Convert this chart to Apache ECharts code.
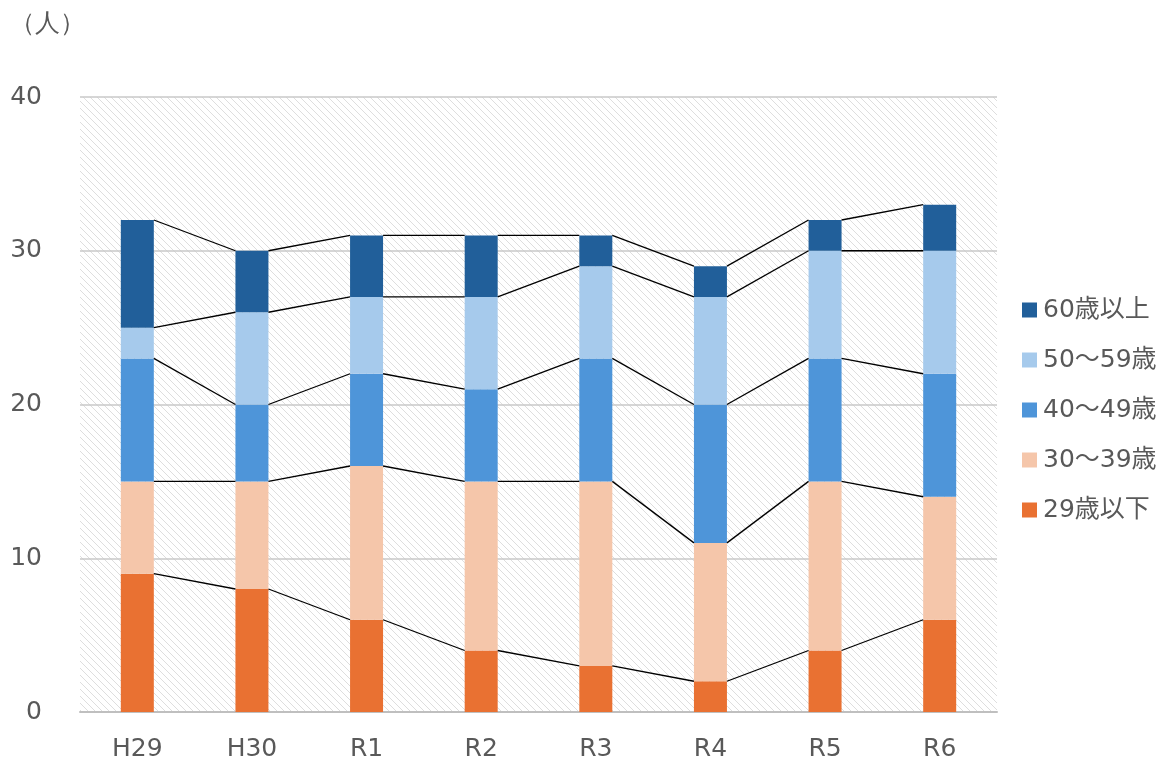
<!DOCTYPE html>
<html>
<head>
<meta charset="utf-8">
<script src="https://cdn.jsdelivr.net/npm/echarts@6/dist/echarts.min.js"></script>
<style>
  html, body { margin: 0; padding: 0; background: #fff; }
  #chart { width: 1166px; height: 765px; }
</style>
</head>
<body>
<div id="chart"></div>
<script>
// Fiscal years
const years = ['H29', 'H30', 'R1', 'R2', 'R3', 'R4', 'R5', 'R6'];

// Headcount by age group (persons)
const age29Under = [9, 8, 6, 4, 3, 2, 4, 6];
const age30s     = [6, 7, 10, 11, 12, 9, 11, 8];
const age40s     = [8, 5, 6, 6, 8, 9, 8, 8];
const age50s     = [2, 6, 5, 6, 6, 7, 7, 8];
const age60Over  = [7, 4, 4, 4, 2, 2, 2, 3];

const groupNames  = ['29歳以下', '30～39歳', '40～49歳', '50～59歳', '60歳以上'];
const groupValues = [age29Under, age30s, age40s, age50s, age60Over];
const groupColors = ['#E97132', '#F5C6AA', '#4E95D9', '#A6CAEC', '#215F9A'];

const yTicks = { min: 0, max: 40, interval: 10 };

const FONT = 'DejaVu Sans, Noto Sans CJK JP, sans-serif';
const TEXT = '#595959';
const BAR_W = 33;

// Diagonal hatch used as plot-area background
function hatch() {
  const s = 7;
  const c = document.createElement('canvas');
  c.width = s; c.height = s;
  const g = c.getContext('2d');
  g.fillStyle = '#ffffff';
  g.fillRect(0, 0, s, s);
  g.strokeStyle = '#dedede';
  g.lineWidth = 1;
  g.beginPath();
  g.moveTo(-1, -1); g.lineTo(s + 1, s + 1);
  g.moveTo(-1, s - 1); g.lineTo(1, s + 1);
  g.moveTo(s - 1, -1); g.lineTo(s + 1, 1);
  g.stroke();
  return c;
}

// Cumulative tops of each stack segment per year
function cumulative(i) {
  let acc = 0;
  return groupValues.map(v => (acc += v[i]));
}

// Connector rows: [index, tops of year i..., tops of year i+1...]
const connectorData = [];
for (let i = 0; i < years.length - 1; i++) {
  connectorData.push([i].concat(cumulative(i), cumulative(i + 1)));
}

const barSeries = groupNames.map((name, k) => ({
  name: name,
  type: 'bar',
  stack: 'total',
  barWidth: BAR_W,
  data: groupValues[k],
  itemStyle: { color: groupColors[k] },
  emphasis: { disabled: true }
}));

const connectorSeries = {
  type: 'custom',
  name: 'connector',
  silent: true,
  z: 5,
  data: connectorData,
  encode: { x: 0, y: 1 },
  renderItem: function (params, api) {
    const i = api.value(0);
    const n = groupNames.length;
    const children = [];
    for (let k = 0; k < n; k++) {
      const a = api.coord([i, api.value(1 + k)]);
      const b = api.coord([i + 1, api.value(1 + n + k)]);
      children.push({
        type: 'line',
        shape: { x1: a[0] + BAR_W / 2, y1: a[1], x2: b[0] - BAR_W / 2, y2: b[1] },
        style: { stroke: '#000000', lineWidth: 1.3 }
      });
    }
    return { type: 'group', children: children };
  }
};

const chart = echarts.init(document.getElementById('chart'));
chart.setOption({
  animation: false,
  textStyle: { fontFamily: FONT },
  grid: {
    left: 80, right: 169, top: 97, bottom: 53,
    show: true,
    borderWidth: 0,
    backgroundColor: { image: hatch(), repeat: 'repeat' }
  },
  graphic: [{
    type: 'text', left: 10, top: 12,
    style: { text: '（人）', fontSize: 25, fill: TEXT, font: '25px ' + FONT }
  }],
  legend: {
    orient: 'vertical',
    left: 1017, top: 291,
    itemWidth: 15, itemHeight: 15, itemGap: 22,
    icon: 'rect',
    data: groupNames.slice().reverse(),
    textStyle: { fontSize: 25, lineHeight: 28, color: TEXT, fontFamily: FONT, padding: [0, 0, 0, 1] }
  },
  xAxis: {
    type: 'category',
    data: years,
    axisLine: { lineStyle: { color: '#BFBFBF', width: 2 } },
    axisTick: { show: false },
    axisLabel: { fontSize: 25, color: TEXT, margin: 25, fontFamily: FONT }
  },
  yAxis: {
    type: 'value',
    min: yTicks.min, max: yTicks.max, interval: yTicks.interval,
    axisLine: { show: false },
    axisTick: { show: false },
    axisLabel: { fontSize: 25, color: TEXT, margin: 38, fontFamily: FONT },
    splitLine: { lineStyle: { color: '#C8C8C8', width: 1.5 } }
  },
  series: barSeries.concat([connectorSeries])
});
</script>
</body>
</html>
